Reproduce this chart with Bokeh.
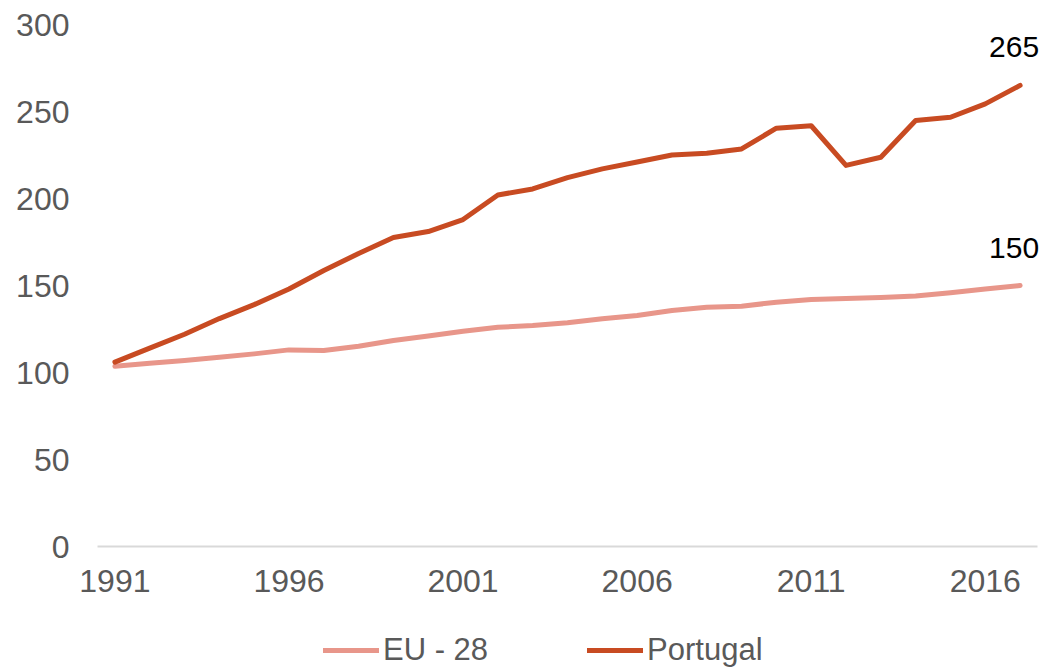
from bokeh.plotting import figure
from bokeh.models import Range1d, FixedTicker, Legend, LegendItem, ColumnDataSource, LabelSet
from bokeh.core.properties import value
from bokeh.embed import file_html
from bokeh.resources import INLINE

years = list(range(1991, 2018))
eu28 = [103.6, 105.3, 106.9, 108.8, 110.7, 113.0, 112.6, 115.1, 118.4, 121.0,
        123.7, 126.0, 127.0, 128.6, 130.9, 132.8, 135.6, 137.5, 138.1, 140.4,
        142.0, 142.5, 143.1, 144.0, 145.8, 148.0, 150.0]
portugal = [106.0, 114.0, 122.0, 131.0, 139.0, 148.0, 158.6, 168.4, 177.6, 181.0,
            187.9, 202.0, 205.5, 212.0, 217.0, 221.0, 225.0, 226.0, 228.5, 240.4,
            241.8, 219.0, 223.7, 244.8, 246.7, 254.4, 265.0]
series_names = ["EU - 28", "Portugal"]
series_colors = ["#E8968A", "#C84B22"]
x_ticks = [1991, 1996, 2001, 2006, 2011, 2016]
y_ticks = [0, 50, 100, 150, 200, 250, 300]

FONT = "Liberation Sans"
GREY = "#595959"

# plot-area geometry (pixels) of the reference
W, H = 1043, 668
PA_LEFT, PA_RIGHT, PA_TOP, PA_BOTTOM = 97, 1037, 24, 546
X0, X1 = 1990.5, 2017.5
Y0, Y1 = 0, 300
ppx = (PA_RIGHT - PA_LEFT) / (X1 - X0)
ppy = (PA_BOTTOM - PA_TOP) / (Y1 - Y0)
# frame covers whole canvas so that axis labels and legend are not clipped
x_range = Range1d(X0 - PA_LEFT / ppx, X1 + (W - PA_RIGHT) / ppx)
y_range = Range1d(Y0 - (H - PA_BOTTOM) / ppy, Y1 + PA_TOP / ppy)

p = figure(width=W, height=H, output_backend="svg", toolbar_location=None,
           x_range=x_range, y_range=y_range,
           min_border_left=0, min_border_right=0, min_border_top=0,
           min_border_bottom=0)
p.outline_line_color = None
p.xgrid.visible = False
p.ygrid.visible = False
p.background_fill_color = "white"
p.border_fill_color = "white"

# y axis drawn at left edge of plot area
p.yaxis.fixed_location = X0
p.yaxis.bounds = (Y0, Y1)
p.yaxis.ticker = FixedTicker(ticks=y_ticks)
p.yaxis.axis_line_color = None
p.yaxis.major_tick_line_color = None
p.yaxis.minor_tick_line_color = None
p.yaxis.major_tick_out = 0
p.yaxis.major_label_standoff = 28
p.yaxis.major_label_text_font = FONT
p.yaxis.major_label_text_font_size = "32px"
p.yaxis.major_label_text_color = GREY

# x axis drawn at y = 0
p.xaxis.fixed_location = Y0
p.xaxis.bounds = (X0, X1)
p.xaxis.ticker = FixedTicker(ticks=x_ticks)
p.xaxis.axis_line_color = "#D9D9D9"
p.xaxis.axis_line_width = 2
p.xaxis.major_tick_line_color = None
p.xaxis.minor_tick_line_color = None
p.xaxis.major_tick_out = 0
p.xaxis.major_label_standoff = 23
p.xaxis.major_label_text_font = FONT
p.xaxis.major_label_text_font_size = "32px"
p.xaxis.major_label_text_color = GREY

items = []
for name, vals, col in zip(series_names, [eu28, portugal], series_colors):
    src = ColumnDataSource(dict(x=years, y=vals))
    r = p.line("x", "y", source=src, line_color=col, line_width=5,
               line_cap="round", line_join="round")
    items.append(LegendItem(label=name, renderers=[r]))
    lab = ColumnDataSource(dict(x=[years[-1]], y=[vals[-1]],
                                t=["%d" % round(vals[-1])]))
    p.add_layout(LabelSet(x="x", y="y", text="t", source=lab,
                          text_font=value(FONT),
                          text_font_size="30px", text_color="black",
                          text_align="center", text_baseline="middle",
                          y_offset=38, x_offset=-6))

legend = Legend(items=items, orientation="horizontal", location=(323, 0),
                label_text_font=FONT, label_text_font_size="31px",
                label_text_color=GREY, glyph_width=56, glyph_height=30,
                label_standoff=4, spacing=99, padding=0, margin=0,
                border_line_color=None, background_fill_alpha=0)
p.add_layout(legend, "center")

open("out.html", "w").write(file_html(p, INLINE))
